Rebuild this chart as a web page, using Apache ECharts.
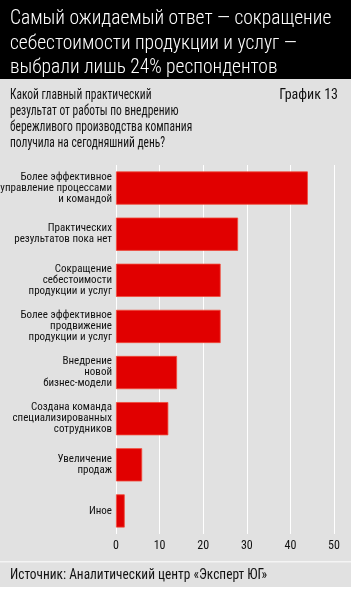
<!DOCTYPE html>
<html>
<head>
<meta charset="utf-8">
<script src="https://cdn.jsdelivr.net/npm/echarts@6/dist/echarts.min.js"></script>
<style>
  html, body { margin: 0; padding: 0; background: #ffffff; }
  #chart { width: 351px; height: 594px; }
</style>
</head>
<body>
<div id="chart"></div>
<script>
// категории сверху вниз
const categories = [
  'Более эффективное\nуправление процессами\nи командой',
  'Практических\nрезультатов пока нет',
  'Сокращение\nсебестоимости\nпродукции и услуг',
  'Более эффективное\nпродвижение\nпродукции и услуг',
  'Внедрение\nновой\nбизнес-модели',
  'Создана команда\nспециализированных\nсотрудников',
  'Увеличение\nпродаж',
  'Иное'
]
const values = [44, 28, 24, 24, 14, 12, 6, 2]
const xTicks = [0, 10, 20, 30, 40, 50]

const titleLines = 'Самый ожидаемый ответ — сокращение\nсебестоимости продукции и услуг —\nвыбрали лишь 24% респондентов'
const question = 'Какой главный практический\nрезультат от работы по внедрению\nбережливого производства компания\nполучила на сегодняшний день?'
const chartNo = 'График 13'
const source = 'Источник: Аналитический центр «Эксперт ЮГ»'

const FONT = "Roboto, 'Liberation Sans', sans-serif"
const BG = '#e1e1e1'

const myChart = echarts.init(document.getElementById('chart'))

const option = {
  backgroundColor: '#ffffff',
  animation: false,
  textStyle: { fontFamily: FONT },
  title: [
    {
      text: chartNo, right: 13, top: 87, padding: 0,
      textStyle: { color: '#111111', fontSize: 14, fontWeight: 'condensed', fontFamily: FONT, lineHeight: 16 }
    }
  ],
  graphic: [
    { type: 'rect', z: -10, shape: { x: 0, y: 0, width: 351, height: 79 }, style: { fill: '#000000' } },
    { type: 'rect', z: -10, shape: { x: 0, y: 79, width: 351, height: 508 }, style: { fill: BG } },
    { type: 'rect', z: -9, shape: { x: 0, y: 561, width: 351, height: 1.5 }, style: { fill: '#f4f4f4' } },
    {
      type: 'text', left: 10, top: 7,
      style: { text: titleLines, fill: '#ffffff', font: 'condensed 300 19.5px ' + FONT, lineHeight: 24.5 }
    },
    {
      // текст вопроса узкий, как в оригинале
      type: 'text', x: 10, y: 87, scaleX: 0.82,
      style: {
        text: question, fill: '#111111', fontSize: 14, fontWeight: 'condensed', fontFamily: FONT,
        lineHeight: 16, verticalAlign: 'top', align: 'left'
      }
    },
    {
      type: 'text', x: 10, y: 567, scaleX: 0.89,
      style: {
        text: source, fill: '#111111', fontSize: 15, fontWeight: 'condensed', fontFamily: FONT,
        lineHeight: 16, verticalAlign: 'top', align: 'left'
      }
    }
  ],
  grid: { left: 116, right: 17, top: 165, height: 369, outerBoundsMode: 'none' },
  xAxis: {
    type: 'value',
    min: xTicks[0],
    max: xTicks[xTicks.length - 1],
    interval: 10,
    axisLine: { show: false },
    axisTick: { show: false },
    splitLine: { show: true, lineStyle: { color: '#ffffff', width: 1 } },
    axisLabel: { color: '#111111', fontSize: 12, fontWeight: 'condensed', fontFamily: FONT, margin: 6 }
  },
  yAxis: {
    type: 'category',
    inverse: true,
    data: categories,
    axisLine: { show: false },
    axisTick: { show: false },
    axisLabel: {
      color: '#111111', fontSize: 11, fontWeight: 'condensed', fontFamily: FONT,
      lineHeight: 11, margin: 4, align: 'right'
    }
  },
  series: [
    {
      type: 'bar',
      data: values,
      barCategoryGap: '28%',
      itemStyle: { color: '#e10000', borderColor: '#f04a3a', borderWidth: 0.8 },
      z: 3
    }
  ]
}

myChart.setOption(option)
</script>
</body>
</html>
